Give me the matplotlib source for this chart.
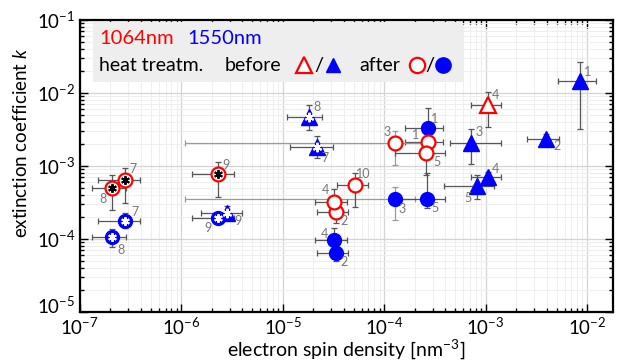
import numpy as np
import matplotlib
matplotlib.use("Agg")
import matplotlib.pyplot as plt
from matplotlib.patches import Rectangle
from matplotlib.ticker import LogLocator, NullFormatter
from matplotlib.transforms import ScaledTranslation

plt.rcParams['font.family'] = ['Lato', 'DejaVu Sans']
plt.rcParams['mathtext.fontset'] = 'custom'
plt.rcParams['mathtext.rm'] = 'Lato'
plt.rcParams['mathtext.it'] = 'Lato:italic'

# --- data: spin density x, extinction k, asymmetric error limits (lo, hi) ---
# 1064 nm, before heat treatment (open red triangle)
red_before_lab = ['4']
red_before_x = [1.06e-3]
red_before_y = [6.86e-3]
red_before_xlo = [7.1e-4]
red_before_xhi = [1.41e-3]
red_before_ylo = [3.46e-3]
red_before_yhi = [1.04e-2]

# 1064 nm, after heat treatment (open red circle)
red_after_lab = ['1', '2', '3', '4', '5', '7', '8', '9', '10']
red_after_x = [2.70e-4, 3.34e-5, 1.29e-4, 3.19e-5, 2.60e-4, 2.78e-7, 2.09e-7, 2.31e-6, 5.17e-5]
red_after_y = [2.11e-3, 2.37e-4, 2.05e-3, 3.21e-4, 1.49e-3, 6.45e-4, 5.05e-4, 7.70e-4, 5.50e-4]
red_after_xlo = [1.6e-4, 2.16e-5, 1.1e-6, 2.09e-5, 1.27e-4, 1.51e-7, 1.32e-7, 1.29e-6, 3.4e-5]
red_after_xhi = [3.8e-4, 4.4e-5, 2.5e-4, 4.27e-5, 4.0e-4, 3.96e-7, 2.87e-7, 3.31e-6, 7.0e-5]
red_after_ylo = [1.9e-3, 1.64e-4, 1.03e-3, 2.6e-4, 7.5e-4, 3.15e-4, 2.5e-4, 3.8e-4, 2.77e-4]
red_after_yhi = [2.35e-3, 2.6e-4, 3.05e-3, 4.8e-4, 1.7e-3, 9.5e-4, 7.6e-4, 1.15e-3, 8.1e-4]

# 1550 nm, before heat treatment (filled blue triangle)
blue_before_lab = ['1', '2', '3', '4', '5', '7', '8', '9']
blue_before_x = [8.6e-3, 3.96e-3, 7.18e-4, 1.06e-3, 8.17e-4, 2.17e-5, 1.80e-5, 2.85e-6]
blue_before_y = [1.47e-2, 2.34e-3, 2.05e-3, 7.0e-4, 5.32e-4, 1.84e-3, 4.73e-3, 2.29e-4]
blue_before_xlo = [5.15e-3, 2.58e-3, 4.5e-4, 7.2e-4, 3.93e-4, 1.19e-5, 1.10e-5, 1.58e-6]
blue_before_xhi = [1.23e-2, 5.27e-3, 1.43e-3, 1.42e-3, 1.2e-3, 3.16e-5, 2.43e-5, 3.98e-6]
blue_before_ylo = [3.18e-3, 1.95e-3, 1.06e-3, 5.8e-4, 3.5e-4, 1.3e-3, 3.11e-3, 1.85e-4]
blue_before_yhi = [2.69e-2, 2.75e-3, 3.18e-3, 8.2e-4, 7.5e-4, 2.6e-3, 6.85e-3, 2.8e-4]

# 1550 nm, after heat treatment (filled blue circle)
blue_after_lab = ['1', '2', '3', '4', '5', '7', '8', '9']
blue_after_x = [2.70e-4, 3.34e-5, 1.28e-4, 3.19e-5, 2.62e-4, 2.78e-7, 2.09e-7, 2.31e-6]
blue_after_y = [3.28e-3, 6.5e-5, 3.5e-4, 9.7e-5, 3.56e-4, 1.75e-4, 1.05e-4, 1.92e-4]
blue_after_xlo = [1.6e-4, 2.16e-5, 1.1e-6, 2.09e-5, 1.45e-4, 1.51e-7, 1.32e-7, 1.29e-6]
blue_after_xhi = [3.8e-4, 4.4e-5, 2.0e-4, 4.27e-5, 4.0e-4, 3.96e-7, 2.87e-7, 3.31e-6]
blue_after_ylo = [1.9e-3, 5.05e-5, 1.8e-4, 7.5e-5, 2.63e-4, 1.40e-4, 7.85e-5, 1.65e-4]
blue_after_yhi = [6.2e-3, 8.0e-5, 5.1e-4, 1.4e-4, 8.0e-4, 2.25e-4, 1.36e-4, 2.2e-4]

# samples that were measured with the asterisk mark
star_samples = ['7', '8', '9']

# label offsets in points (dx, dy) for each point, same order as the data
red_before_off = [(5, 7)]
red_after_off = [(-9, 5), (6, -7), (-6, 8), (-6, 9), (8, -6), (6, 8), (-7, -8), (6, 7), (6, 8)]
blue_before_off = [(5, 6), (8, -5), (6, 8), (5, 6), (-6, -9), (6, -8), (6, 7), (8, -6)]
blue_after_off = [(5, 7), (6, -7), (5, -7), (-7, 4), (6, -7), (7, 7), (6, -9), (-7, -7)]

RED = '#ff0000'
BLUE = '#0000ff'
ERR = '#555555'
LAB = '#777777'

fig = plt.figure(figsize=(6.23, 3.64), dpi=100)
ax = fig.add_axes([0.128, 0.143, 0.856, 0.802])
ax.set_xscale('log')
ax.set_yscale('log')
ax.set_xlim(1e-7, 1.8e-2)
ax.set_ylim(1e-5, 1e-1)

ax.grid(True, which='major', color='#d4d4d4', lw=0.9, zorder=0)
ax.grid(True, which='minor', color='#eeeeee', lw=0.7, zorder=0)
ax.set_axisbelow(True)

ax.xaxis.set_major_locator(LogLocator(base=10, numticks=20))
ax.xaxis.set_minor_locator(LogLocator(base=10, subs=np.arange(2, 10), numticks=20))
ax.yaxis.set_minor_locator(LogLocator(base=10, subs=np.arange(2, 10), numticks=20))
ax.xaxis.set_minor_formatter(NullFormatter())
ax.yaxis.set_minor_formatter(NullFormatter())
ax.tick_params(which='both', direction='in', top=True, right=True, width=1.0)
ax.tick_params(which='major', length=6, labelsize=13.5)
ax.tick_params(which='minor', length=3)
ax.tick_params(axis='x', which='major', pad=3)
ax.tick_params(axis='y', which='major', pad=3)
for s in ax.spines.values():
    s.set_linewidth(1.6)


def draw(xs, ys, xlo, xhi, ylo, yhi, labs, offs, marker, color, filled, size):
    for i in range(len(xs)):
        x, y = xs[i], ys[i]
        long_bar = x / xlo[i] > 20
        ax.errorbar([x], [y], xerr=[[x - xlo[i]], [xhi[i] - x]],
                    yerr=[[y - ylo[i]], [yhi[i] - y]], fmt='none',
                    ecolor='#9a9a9a' if long_bar else ERR, elinewidth=0.9,
                    capsize=2.2, capthick=0.9, zorder=2)
        ax.plot([x], [y], marker=marker, ms=size, ls='none',
                mfc=color if filled else 'white', mec=color,
                mew=1.0 if filled else 1.6, zorder=3)
        if labs[i] in star_samples:
            ax.plot([x], [y], marker=(6, 2, 0), ms=size * 0.62, ls='none',
                    mec='white' if filled else 'black', mew=1.4, zorder=4)
        ax.annotate(labs[i], (x, y), xytext=offs[i], textcoords='offset points',
                    ha='center', va='center', fontsize=9, color=LAB, zorder=5)


draw(blue_after_x, blue_after_y, blue_after_xlo, blue_after_xhi,
     blue_after_ylo, blue_after_yhi, blue_after_lab, blue_after_off, 'o', BLUE, True, 10)
draw(red_after_x, red_after_y, red_after_xlo, red_after_xhi,
     red_after_ylo, red_after_yhi, red_after_lab, red_after_off, 'o', RED, False, 10)
draw(blue_before_x, blue_before_y, blue_before_xlo, blue_before_xhi,
     blue_before_ylo, blue_before_yhi, blue_before_lab, blue_before_off, '^', BLUE, True, 11)
draw(red_before_x, red_before_y, red_before_xlo, red_before_xhi,
     red_before_ylo, red_before_yhi, red_before_lab, red_before_off, '^', RED, False, 11)

ax.set_xlabel('electron spin density [nm$^{-3}$]', fontsize=14, labelpad=0)
ax.set_ylabel('extinction coefficient $k$', fontsize=13.5)
ax.yaxis.set_label_coords(-0.093, 0.579)

# legend box drawn by hand
ax.add_patch(Rectangle((0.024, 0.788), 0.695, 0.205, transform=ax.transAxes,
                       facecolor='#eeeeee', edgecolor='none', zorder=6))
ax.text(0.036, 0.935, '1064nm', color=RED, fontsize=14.5, transform=ax.transAxes,
        va='center', zorder=7)
ax.text(0.202, 0.935, '1550nm', color=BLUE, fontsize=14.5, transform=ax.transAxes,
        va='center', zorder=7)
ax.text(0.036, 0.845, 'heat treatm.', color='black', fontsize=14,
        transform=ax.transAxes, va='center', zorder=7)
ax.text(0.272, 0.845, 'before', color='black', fontsize=14,
        transform=ax.transAxes, va='center', zorder=7)
ax.plot([0.420], [0.845], marker='^', ms=12, mfc='white', mec=RED, mew=1.6,
        transform=ax.transAxes, clip_on=False, zorder=7)
ax.text(0.448, 0.845, '/', fontsize=14.5, transform=ax.transAxes,
        ha='center', va='center', zorder=7)
ax.plot([0.475], [0.845], marker='^', ms=10, color=BLUE,
        transform=ax.transAxes, clip_on=False, zorder=7)
ax.text(0.524, 0.845, 'after', color='black', fontsize=14,
        transform=ax.transAxes, va='center', zorder=7)
ax.plot([0.632], [0.845], marker='o', ms=11, mfc='white', mec=RED, mew=1.6,
        transform=ax.transAxes, clip_on=False, zorder=7)
ax.text(0.657, 0.845, '/', fontsize=14.5, transform=ax.transAxes,
        ha='center', va='center', zorder=7)
ax.plot([0.681], [0.845], marker='o', ms=11, color=BLUE,
        transform=ax.transAxes, clip_on=False, zorder=7)

# lift the lowest y tick label a little, like the original, so it clears 10^-7
fig.canvas.draw()
for tick in ax.yaxis.get_major_ticks():
    if np.isclose(tick.get_loc(), 1e-5):
        lbl = tick.label1
        lbl.set_transform(lbl.get_transform() + ScaledTranslation(0, 5 / 72, fig.dpi_scale_trans))

fig.savefig('out.png', dpi=100)
